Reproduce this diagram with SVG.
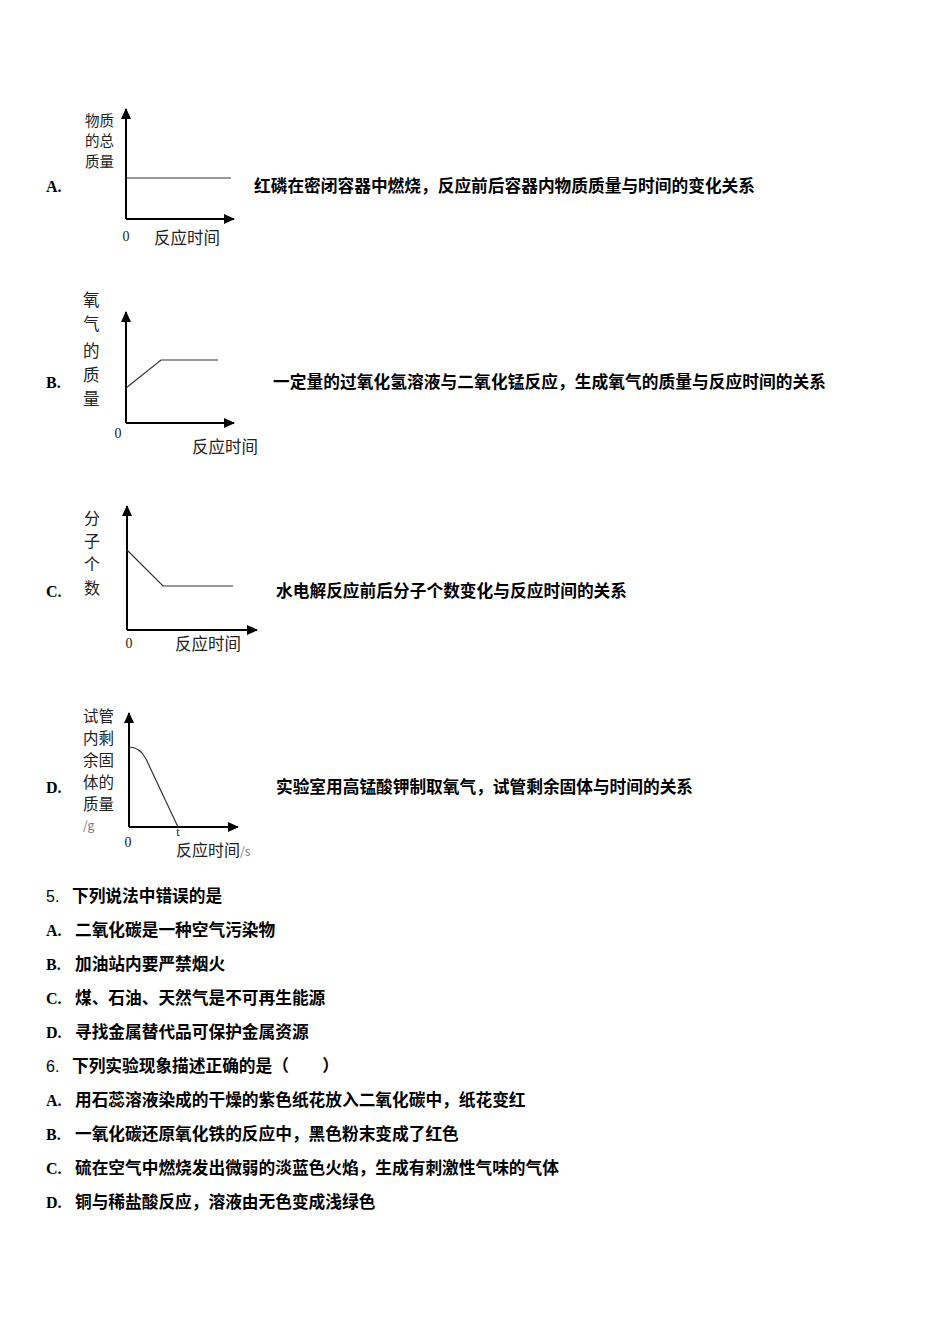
<svg xmlns="http://www.w3.org/2000/svg" width="950" height="1344" viewBox="0 0 950 1344">
<defs>
<marker id="arr" markerUnits="userSpaceOnUse" markerWidth="12" markerHeight="10" refX="10" refY="5" orient="auto">
<path d="M0,0 L11,5 L0,10 Z" fill="#000"/>
</marker>
<style>
.ax{stroke:#000;stroke-width:2;fill:none;marker-end:url(#arr)}
.ln{stroke:#333;stroke-width:1.2;fill:none}
.lab{font-family:"Noto Sans CJK SC","Noto Sans",sans-serif;font-size:16px;fill:#222}
.zero{font-family:"Liberation Serif",serif;font-size:14px;fill:#222}
.opt{font-family:"Liberation Serif",serif;font-size:16px;font-weight:bold;fill:#000}
.txt{font-family:"Noto Sans CJK SC","Noto Sans",sans-serif;font-size:16.7px;font-weight:bold;fill:#000}
.num{font-family:"Liberation Sans","Noto Sans",sans-serif;font-size:16px;fill:#000}
.grey{fill:#777;font-size:12px}
</style>
</defs>
<rect width="950" height="1344" fill="#fff"/>

<g id="chartA">
<text class="opt" x="46" y="192">A.</text>
<line class="ax" x1="126" y1="219" x2="126" y2="109"/>
<line class="ax" x1="126" y1="219" x2="234" y2="219"/>
<line class="ln" x1="126" y1="178" x2="231" y2="178"/>
<text class="lab" x="85" y="125.5" style="font-size:14.5px">物质</text>
<text class="lab" x="85" y="146" style="font-size:14.5px">的总</text>
<text class="lab" x="85" y="166.5" style="font-size:14.5px">质量</text>
<text class="zero" x="126" y="241" text-anchor="middle">0</text>
<text class="lab" x="154" y="244" style="font-size:16.5px">反应时间</text>
<text class="txt" x="254" y="192" textLength="501" lengthAdjust="spacing">红磷在密闭容器中燃烧，反应前后容器内物质质量与时间的变化关系</text>
</g>

<g id="chartB">
<text class="opt" x="46" y="388">B.</text>
<line class="ax" x1="126" y1="423" x2="126" y2="312"/>
<line class="ax" x1="126" y1="423" x2="234" y2="423"/>
<polyline class="ln" points="126,388 161,360 218,360"/>
<text class="lab" x="83" y="306" style="font-size:16.5px">氧</text>
<text class="lab" x="83" y="330" style="font-size:16.5px">气</text>
<text class="lab" x="83" y="357" style="font-size:16.5px">的</text>
<text class="lab" x="83" y="381" style="font-size:16.5px">质</text>
<text class="lab" x="83" y="405" style="font-size:16.5px">量</text>
<text class="zero" x="118" y="438" text-anchor="middle">0</text>
<text class="lab" x="192" y="453" style="font-size:16.5px">反应时间</text>
<text class="txt" x="273" y="388" textLength="553" lengthAdjust="spacing">一定量的过氧化氢溶液与二氧化锰反应，生成氧气的质量与反应时间的关系</text>
</g>

<g id="chartC">
<text class="opt" x="46" y="597">C.</text>
<line class="ax" x1="127" y1="630" x2="127" y2="506"/>
<line class="ax" x1="127" y1="630" x2="257" y2="630"/>
<polyline class="ln" points="127,550 163,586 233,586"/>
<text class="lab" x="84" y="524">分</text>
<text class="lab" x="84" y="547">子</text>
<text class="lab" x="84" y="570">个</text>
<text class="lab" x="84" y="594">数</text>
<text class="zero" x="129" y="648" text-anchor="middle">0</text>
<text class="lab" x="175" y="650" style="font-size:16.5px">反应时间</text>
<text class="txt" x="276" y="597" textLength="351" lengthAdjust="spacing">水电解反应前后分子个数变化与反应时间的关系</text>
</g>

<g id="chartD">
<text class="opt" x="46" y="793">D.</text>
<line class="ax" x1="129" y1="827" x2="129" y2="713"/>
<line class="ax" x1="129" y1="827" x2="238" y2="827"/>
<path class="ln" d="M129,747 Q140,747 146,759 L178,827"/>
<text class="lab" x="83" y="722" style="font-size:15.5px">试管</text>
<text class="lab" x="83" y="744" style="font-size:15.5px">内剩</text>
<text class="lab" x="83" y="766" style="font-size:15.5px">余固</text>
<text class="lab" x="83" y="788" style="font-size:15.5px">体的</text>
<text class="lab" x="83" y="810" style="font-size:15.5px">质量</text>
<text class="lab grey" x="83" y="830" style="font-size:12px">/g</text>
<text class="zero" x="128" y="847" text-anchor="middle">0</text>
<text class="zero" x="178" y="836" text-anchor="middle" style="font-size:12px">t</text>
<text class="lab" x="176" y="856">反应时间<tspan class="grey">/s</tspan></text>
<text class="txt" x="276" y="793" textLength="417" lengthAdjust="spacing">实验室用高锰酸钾制取氧气，试管剩余固体与时间的关系</text>
</g>

<g id="q5">
<text class="num" x="46" y="902">5.</text>
<text class="txt" x="72" y="902">下列说法中错误的是</text>
<text class="opt" x="46" y="936">A.</text>
<text class="txt" x="75" y="936">二氧化碳是一种空气污染物</text>
<text class="opt" x="46" y="970">B.</text>
<text class="txt" x="75" y="970">加油站内要严禁烟火</text>
<text class="opt" x="46" y="1004">C.</text>
<text class="txt" x="75" y="1004">煤、石油、天然气是不可再生能源</text>
<text class="opt" x="46" y="1038">D.</text>
<text class="txt" x="75" y="1038">寻找金属替代品可保护金属资源</text>
</g>

<g id="q6">
<text class="num" x="46" y="1072">6.</text>
<text class="txt" x="72" y="1072">下列实验现象描述正确的是（　　）</text>
<text class="opt" x="46" y="1106">A.</text>
<text class="txt" x="75" y="1106">用石蕊溶液染成的干燥的紫色纸花放入二氧化碳中，纸花变红</text>
<text class="opt" x="46" y="1140">B.</text>
<text class="txt" x="75" y="1140">一氧化碳还原氧化铁的反应中，黑色粉末变成了红色</text>
<text class="opt" x="46" y="1174">C.</text>
<text class="txt" x="75" y="1174">硫在空气中燃烧发出微弱的淡蓝色火焰，生成有刺激性气味的气体</text>
<text class="opt" x="46" y="1208">D.</text>
<text class="txt" x="75" y="1208">铜与稀盐酸反应，溶液由无色变成浅绿色</text>
</g>
</svg>
